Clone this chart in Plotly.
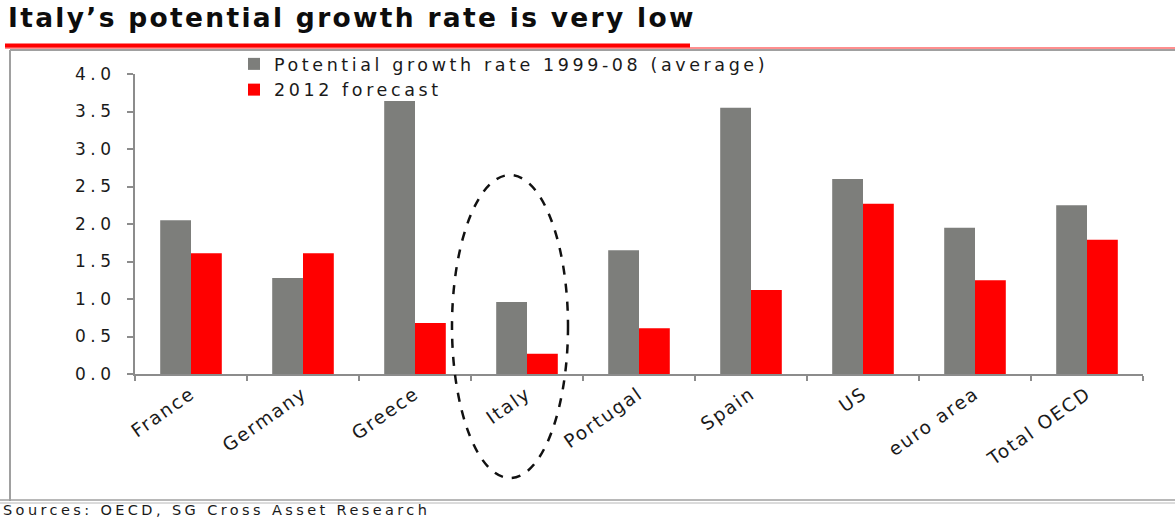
import plotly.graph_objects as go

categories = ["France", "Germany", "Greece", "Italy", "Portugal", "Spain", "US", "euro area", "Total OECD"]
potential_1999_08 = [2.05, 1.28, 3.64, 0.96, 1.65, 3.55, 2.60, 1.95, 2.25]
forecast_2012 = [1.61, 1.61, 0.68, 0.27, 0.61, 1.12, 2.27, 1.25, 1.79]
y_tick_values = [0.0, 0.5, 1.0, 1.5, 2.0, 2.5, 3.0, 3.5, 4.0]
y_tick_labels = ["0.0", "0.5", "1.0", "1.5", "2.0", "2.5", "3.0", "3.5", "4.0"]

W, H = 1175, 520
L, R, T, B = 135, 32, 74, 146
PW, PH = W - L - R, H - T - B


def px(x):
    return (x - L) / PW


def py(y):
    return (H - B - y) / PH


def spaced(s, ls=2):
    return f'<span style="letter-spacing:{ls}px">{s}</span>'


FONT = "DejaVu Sans, Liberation Sans, Arial, sans-serif"
TXT = "#1a1a1a"

fig = go.Figure()
fig.add_trace(go.Bar(
    x=categories, y=potential_1999_08,
    name=spaced("Potential growth rate 1999-08 (average)", 3.6),
    marker=dict(color="#7d7e7b", line=dict(width=0)),
))
fig.add_trace(go.Bar(
    x=categories, y=forecast_2012,
    name=spaced("2012 forecast", 3.6),
    marker=dict(color="#ff0000", line=dict(width=0)),
))

fig.update_layout(
    width=W, height=H,
    margin=dict(l=L, r=R, t=T, b=B, autoexpand=False),
    paper_bgcolor="white", plot_bgcolor="white",
    barmode="group", bargap=0.45, bargroupgap=0.0,
    font=dict(family=FONT, color=TXT, size=16),
    showlegend=True,
    legend=dict(
        x=px(234), y=py(46), xanchor="left", yanchor="top",
        bgcolor="rgba(0,0,0,0)", font=dict(size=17.5, color=TXT),
        itemsizing="constant", tracegroupgap=0,
    ),
    title=dict(
        text=spaced("Italy’s potential growth rate is very low", 2.3),
        x=8 / W, xanchor="left", xref="container",
        y=1 - 8 / H, yanchor="top", yref="container",
        font=dict(family="DejaVu Sans, Liberation Sans, sans-serif", size=26.5, color="#0d0d0d", weight=900),
    ),
)

fig.update_xaxes(
    type="category",
    showline=True, linecolor="#8c8c8c", linewidth=2,
    ticks="outside", tickson="boundaries", ticklen=5, tickcolor="#8c8c8c", tickwidth=1.5,
    tickangle=-35,
    tickvals=categories,
    ticktext=[spaced(c, 1.8) for c in categories],
    tickfont=dict(size=18.5, color=TXT),
    showgrid=False, zeroline=False,
)
fig.update_yaxes(
    range=[0, 4.0],
    showline=True, linecolor="#8c8c8c", linewidth=2,
    ticks="outside", ticklen=6, tickcolor="#8c8c8c", tickwidth=1.5,
    tickvals=y_tick_values,
    ticktext=[spaced(t, 4.5) for t in y_tick_labels],
    tickfont=dict(size=17, color=TXT),
    ticklabelstandoff=8,
    showgrid=False, zeroline=False,
)

shapes = [
    # chart frame
    dict(type="line", xref="paper", yref="paper", x0=px(10), x1=px(1180), y0=py(50), y1=py(50),
         line=dict(color="#a0a0a0", width=2)),
    dict(type="line", xref="paper", yref="paper", x0=px(10), x1=px(10), y0=py(50), y1=py(501),
         line=dict(color="#a0a0a0", width=2)),
    dict(type="line", xref="paper", yref="paper", x0=px(0), x1=px(1180), y0=py(500), y1=py(500),
         line=dict(color="#a0a0a0", width=1.5)),
    dict(type="line", xref="paper", yref="paper", x0=px(0), x1=px(1180), y0=py(503), y1=py(503),
         line=dict(color="#b8b8b8", width=1)),
    # red title rules
    dict(type="line", xref="paper", yref="paper", x0=px(5), x1=px(1180), y0=py(48), y1=py(48),
         line=dict(color="#ff2020", width=1.2)),
    dict(type="line", xref="paper", yref="paper", x0=px(5), x1=px(690), y0=py(45.5), y1=py(45.5),
         line=dict(color="#ff0000", width=4)),
    # dashed ellipse around Italy
    dict(type="circle", xref="paper", yref="paper", x0=px(452), x1=px(568), y0=py(478), y1=py(175),
         line=dict(color="#111111", width=2.5, dash="dash"), layer="above"),
]
fig.update_layout(shapes=shapes)

fig.add_annotation(
    xref="paper", yref="paper", x=px(1), y=py(520), xanchor="left", yanchor="bottom",
    text=spaced("Sources: OECD, SG Cross Asset Research", 3.4), showarrow=False,
    font=dict(size=14.5, color=TXT),
)

fig.write_html("out.html", post_script="document.body.style.margin='0';",
               config={"displayModeBar": False})
